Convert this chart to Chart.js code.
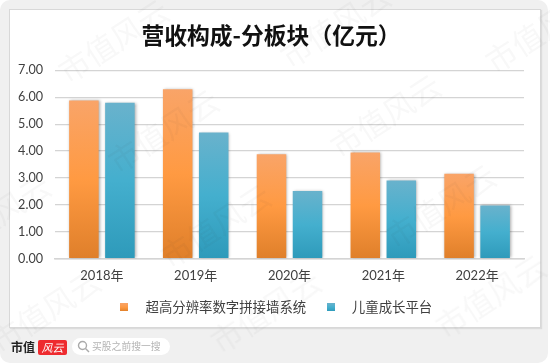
<!DOCTYPE html>
<html>
<head>
<meta charset="utf-8">
<script src="https://cdn.jsdelivr.net/npm/chart.js@4"></script>
<style>
    html, body { margin: 0; padding: 0; background: #fff; }
    #frame { position: relative; width: 550px; height: 364px; overflow: hidden; }
    #bg { position: absolute; left: 0; top: 0; width: 548px; height: 363px; background: #f0f0f0; border-radius: 10px; }
    #card { position: absolute; left: 9px; top: 9px; width: 530px; height: 317px; background: #fff; border: 1px solid #d8d8d8; box-shadow: 1px 1px 1px #dcdcdc; }
    #chart { position: absolute; left: 0; top: 0; }
    .mark { position: absolute; width: 140px; margin-left: -70px; margin-top: -20px; text-align: center; font: 31px/40px "Noto Sans CJK SC"; color: rgba(60, 60, 60, 0.035); transform: rotate(-33deg); white-space: nowrap; }
    #logo { position: absolute; left: 11px; top: 338px; font: bold 12px/18px "Noto Sans CJK SC"; color: #222; }
    #badge { position: absolute; left: 38px; top: 340px; width: 29px; height: 15px; background: #ee2b2f; border-radius: 2px; color: #fff; font: italic 11px/15px "Noto Sans CJK SC"; text-align: center; }
    #search { position: absolute; left: 72px; top: 338px; width: 98px; height: 17px; background: #fff; border-radius: 9px; color: #b4b4b4; font: 9.8px/17px "Noto Sans CJK SC"; text-indent: 20px; }
    #search svg { position: absolute; left: 5px; top: 2px; }
</style>
</head>
<body>
<div id="frame">
    <div id="bg"></div>
    <div id="card"></div>
    <canvas id="chart" width="550" height="364"></canvas>
    <div id="logo">市值</div>
    <div id="badge">风云</div>
    <div id="search">
        <svg width="13" height="13" viewBox="0 0 13 13"><circle cx="5.5" cy="5.5" r="4" fill="none" stroke="#aaa" stroke-width="1.4"/><line x1="8.5" y1="8.5" x2="12" y2="12" stroke="#aaa" stroke-width="1.4"/></svg>
        买股之前搜一搜
    </div>
</div>
<script>
// Chart data
const years = ["2018年", "2019年", "2020年", "2021年", "2022年"];
const displaySystem = [5.88, 6.30, 3.88, 3.95, 3.16];
const childGrowth = [5.80, 4.69, 2.52, 2.91, 1.98];
const seriesNames = ["超高分辨率数字拼接墙系统", "儿童成长平台"];
const yTicks = [0, 7, 1];

const orangeStops = ["#f9a468", "#ff9a42", "#df7f2a"];
const blueStops = ["#69b2cc", "#44afce", "#2e9aba"];

const chartFont = "Lato, 'Noto Sans CJK SC', sans-serif";

// Watermark positions
const markSpots = [[113, 40], [335, 25], [540, 30], [163, 130], [385, 115], [-5, 215], [215, 225], [440, 205], [45, 310], [265, 310], [490, 295]];
const frame = document.getElementById("frame");
markSpots.forEach(function(spot){
    const mark = document.createElement("div");
    mark.className = "mark";
    mark.textContent = "市值风云";
    mark.style.left = spot[0] + "px";
    mark.style.top = spot[1] + "px";
    frame.appendChild(mark);
});

function fillStops(gradient, stops){
    gradient.addColorStop(0, stops[0]);
    gradient.addColorStop(0.5, stops[1]);
    gradient.addColorStop(1, stops[2]);
    return gradient;
}

// Gradient runs from the top of each bar down to the axis
function barFill(stops){
    return function(context){
        const yScale = context.chart.scales.y;
        if (!yScale) return stops[1];
        const top = yScale.getPixelForValue(context.raw);
        const bottom = yScale.getPixelForValue(0);
        // legend and first layout pass have no pixel yet
        if (!isFinite(top) || !isFinite(bottom)) return stops[1];
        return fillStops(context.chart.ctx.createLinearGradient(0, top, 0, bottom), stops);
    };
}

// Small gradient squares for the legend
function legendMarker(stops){
    const marker = document.createElement("canvas");
    marker.width = 8;
    marker.height = 8;
    const markerCtx = marker.getContext("2d");
    markerCtx.fillStyle = fillStops(markerCtx.createLinearGradient(0, 0, 0, 8), stops);
    markerCtx.fillRect(0, 0, 8, 8);
    return marker;
}
const markers = [legendMarker(orangeStops), legendMarker(blueStops)];

// Soft shadow behind the bars
const barShadow = {
    id: "barShadow",
    beforeDatasetsDraw(chart){
        chart.ctx.save();
        chart.ctx.shadowColor = "rgba(0, 0, 0, 0.35)";
        chart.ctx.shadowBlur = 3;
        chart.ctx.shadowOffsetX = 1;
    },
    afterDatasetsDraw(chart){
        chart.ctx.restore();
    }
};

new Chart(document.getElementById("chart"), {
    type: "bar",
    data: {
        labels: years,
        datasets: [
            { label: seriesNames[0], data: displaySystem, backgroundColor: barFill(orangeStops) },
            { label: seriesNames[1], data: childGrowth, backgroundColor: barFill(blueStops) }
        ]
    },
    plugins: [barShadow],
    options: {
        responsive: false,
        animation: false,
        categoryPercentage: 0.768,
        barPercentage: 0.82,
        layout: { padding: { left: 18, right: 26, top: 22, bottom: 40 } },
        plugins: {
            tooltip: { enabled: false },
            title: {
                display: true,
                text: "营收构成-分板块（亿元）",
                color: "#111",
                font: { family: "'Noto Sans CJK SC'", size: 22.8, weight: "bold" },
                padding: { top: 0, bottom: 21 }
            },
            legend: {
                position: "bottom",
                labels: {
                    usePointStyle: true,
                    pointStyleWidth: 29,
                    padding: 10,
                    color: "#404040",
                    font: { family: chartFont, size: 13.4 },
                    generateLabels(chart){
                        const items = Chart.defaults.plugins.legend.labels.generateLabels(chart);
                        items.forEach(function(item, i){ item.pointStyle = markers[i]; });
                        return items;
                    }
                }
            }
        },
        scales: {
            x: {
                afterFit(scale){ scale.height -= 1.7; },
                grid: { display: false, drawTicks: false },
                border: { color: "#d4d4d4", width: 1.5 },
                ticks: { color: "#404040", font: { family: chartFont, size: 13 }, padding: 9 }
            },
            y: {
                min: yTicks[0],
                max: yTicks[1],
                afterFit(scale){ scale.width = 37; },
                grid: { color: "#d4d4d4", lineWidth: 1.3, drawTicks: false },
                border: { display: false },
                ticks: {
                    stepSize: yTicks[2],
                    padding: 12,
                    color: "#404040",
                    font: { family: chartFont, size: 12.6 },
                    callback: function(value){ return value.toFixed(2); }
                }
            }
        }
    }
});
</script>
</body>
</html>
